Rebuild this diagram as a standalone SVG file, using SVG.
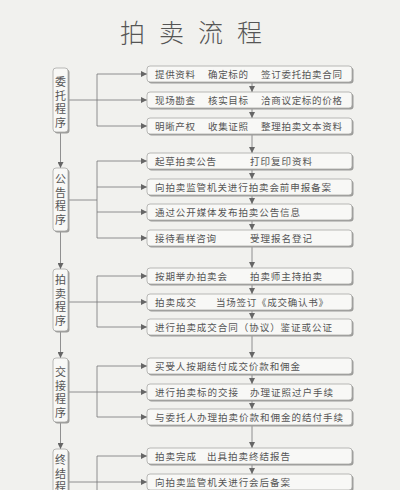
<svg xmlns="http://www.w3.org/2000/svg" width="400" height="490" viewBox="0 0 400 490">
<defs>
<marker id="ah" viewBox="0 0 10 10" refX="10" refY="5" markerWidth="6" markerHeight="6" markerUnits="userSpaceOnUse" orient="auto">
<path d="M0,0 L10,5 L0,10 z" fill="#666"/>
</marker>
<style>
.bg{fill:#f1f1ee}
.box{fill:#f8f8f6;stroke:#a8a8a6;stroke-width:0.8}
.sh{fill:#9c9c9a}
.t{font-family:"Noto Sans CJK SC","Noto Sans",sans-serif;font-size:9.5px;fill:#555}
.v{font-family:"Noto Sans CJK SC","Noto Sans",sans-serif;font-size:11px;fill:#555;writing-mode:vertical-rl;text-orientation:upright;letter-spacing:2.5px}
.title{font-family:"Noto Sans CJK SC","Noto Sans",sans-serif;font-size:25px;font-weight:300;fill:#555;letter-spacing:14px}
.ln{fill:none;stroke:#777;stroke-width:0.8}
.ar{fill:none;stroke:#777;stroke-width:0.8;marker-end:url(#ah)}
</style>
</defs>
<rect class="bg" x="0" y="0" width="400" height="490"/>
<text id="title" class="title" x="120" y="42">拍卖流程</text>

<g id="connectors">
<path class="ar" d="M60.5,132 V168"/>
<path class="ar" d="M60.5,231 V269"/>
<path class="ar" d="M60.5,331 V358"/>
<path class="ar" d="M60.5,422 V449"/>
<path class="ar" d="M252,82 V92"/>
<path class="ar" d="M252,108 V118"/>
<path class="ar" d="M252,134 V153"/>
<path class="ar" d="M252,169 V179"/>
<path class="ar" d="M252,195 V204"/>
<path class="ar" d="M252,220 V230"/>
<path class="ar" d="M252,246 V268"/>
<path class="ar" d="M252,284 V294"/>
<path class="ar" d="M252,310 V319"/>
<path class="ar" d="M252,335 V358"/>
<path class="ar" d="M252,374 V384"/>
<path class="ar" d="M252,400 V409"/>
<path class="ar" d="M252,425 V448"/>
<path class="ar" d="M252,464 V474"/>
<path class="ln" d="M68,100 H97 M97,74 V126"/>
<path class="ar" d="M97,74 H147"/>
<path class="ar" d="M97,100 H147"/>
<path class="ar" d="M97,126 H147"/>
<path class="ln" d="M68,200 H97 M97,161 V238"/>
<path class="ar" d="M97,161 H147"/>
<path class="ar" d="M97,187 H147"/>
<path class="ar" d="M97,212 H147"/>
<path class="ar" d="M97,238 H147"/>
<path class="ln" d="M68,302 H97 M97,276 V327"/>
<path class="ar" d="M97,276 H147"/>
<path class="ar" d="M97,302 H147"/>
<path class="ar" d="M97,327 H147"/>
<path class="ln" d="M68,392 H97 M97,366 V417"/>
<path class="ar" d="M97,366 H147"/>
<path class="ar" d="M97,392 H147"/>
<path class="ar" d="M97,417 H147"/>
<path class="ln" d="M68,482 H97 M97,456 V495"/>
<path class="ar" d="M97,456 H147"/>
<path class="ar" d="M97,482 H147"/>
</g>

<g id="stage-weituo">
<rect class="sh" x="54.5" y="69.5" width="15" height="64" rx="3"/>
<rect class="box" x="53" y="68" width="15" height="64" rx="3"/>
<text class="v" x="60.5" y="76.5">委托程序</text>
</g>
<g id="stage-gonggao">
<rect class="sh" x="54.5" y="169.5" width="15" height="63" rx="3"/>
<rect class="box" x="53" y="168" width="15" height="63" rx="3"/>
<text class="v" x="60.5" y="173.5">公告程序</text>
</g>
<g id="stage-paimai">
<rect class="sh" x="54.5" y="270.5" width="15" height="62" rx="3"/>
<rect class="box" x="53" y="269" width="15" height="62" rx="3"/>
<text class="v" x="60.5" y="274.5">拍卖程序</text>
</g>
<g id="stage-jiaojie">
<rect class="sh" x="54.5" y="359.5" width="15" height="64" rx="3"/>
<rect class="box" x="53" y="358" width="15" height="64" rx="3"/>
<text class="v" x="60.5" y="366.5">交接程序</text>
</g>
<g id="stage-zhongjie">
<rect class="sh" x="54.5" y="450.5" width="15" height="64" rx="3"/>
<rect class="box" x="53" y="449" width="15" height="64" rx="3"/>
<text class="v" x="60.5" y="454.5">终结程</text>
</g>

<g id="s1"><rect class="sh" x="148.5" y="67.5" width="205" height="16" rx="3"/><rect class="box" x="147" y="66" width="205" height="16" rx="3"/>
<text class="t" x="155" y="77.5" textLength="40" lengthAdjust="spacing">提供资料</text><text class="t" x="208" y="77.5" textLength="40" lengthAdjust="spacing">确定标的</text><text class="t" x="261" y="77.5" textLength="81" lengthAdjust="spacing">签订委托拍卖合同</text></g>
<g id="s2"><rect class="sh" x="148.5" y="93.5" width="205" height="16" rx="3"/><rect class="box" x="147" y="92" width="205" height="16" rx="3"/>
<text class="t" x="155" y="103.5" textLength="40" lengthAdjust="spacing">现场勘查</text><text class="t" x="208" y="103.5" textLength="40" lengthAdjust="spacing">核实目标</text><text class="t" x="261" y="103.5" textLength="81" lengthAdjust="spacing">洽商议定标的价格</text></g>
<g id="s3"><rect class="sh" x="148.5" y="119.5" width="205" height="16" rx="3"/><rect class="box" x="147" y="118" width="205" height="16" rx="3"/>
<text class="t" x="155" y="129.5" textLength="40" lengthAdjust="spacing">明晰产权</text><text class="t" x="208" y="129.5" textLength="40" lengthAdjust="spacing">收集证照</text><text class="t" x="261" y="129.5" textLength="81" lengthAdjust="spacing">整理拍卖文本资料</text></g>

<g id="s4"><rect class="sh" x="148.5" y="154.5" width="205" height="16" rx="3"/><rect class="box" x="147" y="153" width="205" height="16" rx="3"/>
<text class="t" x="155" y="164.5" textLength="61" lengthAdjust="spacing">起草拍卖公告</text><text class="t" x="250" y="164.5" textLength="62" lengthAdjust="spacing">打印复印资料</text></g>
<g id="s5"><rect class="sh" x="148.5" y="180.5" width="205" height="16" rx="3"/><rect class="box" x="147" y="179" width="205" height="16" rx="3"/>
<text class="t" x="155" y="190.5" textLength="176" lengthAdjust="spacing">向拍卖监管机关进行拍卖会前申报备案</text></g>
<g id="s6"><rect class="sh" x="148.5" y="205.5" width="205" height="16" rx="3"/><rect class="box" x="147" y="204" width="205" height="16" rx="3"/>
<text class="t" x="155" y="215.5" textLength="145" lengthAdjust="spacing">通过公开媒体发布拍卖公告信息</text></g>
<g id="s7"><rect class="sh" x="148.5" y="231.5" width="205" height="16" rx="3"/><rect class="box" x="147" y="230" width="205" height="16" rx="3"/>
<text class="t" x="155" y="241.5" textLength="61" lengthAdjust="spacing">接待看样咨询</text><text class="t" x="250" y="241.5" textLength="62" lengthAdjust="spacing">受理报名登记</text></g>

<g id="s8"><rect class="sh" x="148.5" y="269.5" width="205" height="16" rx="3"/><rect class="box" x="147" y="268" width="205" height="16" rx="3"/>
<text class="t" x="155" y="279.5" textLength="72" lengthAdjust="spacing">按期举办拍卖会</text><text class="t" x="250" y="279.5" textLength="72" lengthAdjust="spacing">拍卖师主持拍卖</text></g>
<g id="s9"><rect class="sh" x="148.5" y="295.5" width="205" height="16" rx="3"/><rect class="box" x="147" y="294" width="205" height="16" rx="3"/>
<text class="t" x="155" y="305.5" textLength="41" lengthAdjust="spacing">拍卖成交</text><text class="t" x="216" y="305.5" textLength="112" lengthAdjust="spacing">当场签订《成交确认书》</text></g>
<g id="s10"><rect class="sh" x="148.5" y="320.5" width="205" height="16" rx="3"/><rect class="box" x="147" y="319" width="205" height="16" rx="3"/>
<text class="t" x="155" y="330.5" textLength="177" lengthAdjust="spacing">进行拍卖成交合同（协议）鉴证或公证</text></g>

<g id="s11"><rect class="sh" x="148.5" y="359.5" width="205" height="16" rx="3"/><rect class="box" x="147" y="358" width="205" height="16" rx="3"/>
<text class="t" x="155" y="369.5" textLength="145" lengthAdjust="spacing">买受人按期结付成交价款和佣金</text></g>
<g id="s12"><rect class="sh" x="148.5" y="385.5" width="205" height="16" rx="3"/><rect class="box" x="147" y="384" width="205" height="16" rx="3"/>
<text class="t" x="155" y="395.5" textLength="83" lengthAdjust="spacing">进行拍卖标的交接</text><text class="t" x="250" y="395.5" textLength="83" lengthAdjust="spacing">办理证照过户手续</text></g>
<g id="s13"><rect class="sh" x="148.5" y="410.5" width="205" height="16" rx="3"/><rect class="box" x="147" y="409" width="205" height="16" rx="3"/>
<text class="t" x="155" y="420.5" textLength="188" lengthAdjust="spacing">与委托人办理拍卖价款和佣金的结付手续</text></g>

<g id="s14"><rect class="sh" x="148.5" y="449.5" width="205" height="16" rx="3"/><rect class="box" x="147" y="448" width="205" height="16" rx="3"/>
<text class="t" x="155" y="459.5" textLength="41" lengthAdjust="spacing">拍卖完成</text><text class="t" x="207" y="459.5" textLength="83" lengthAdjust="spacing">出具拍卖终结报告</text></g>
<g id="s15"><rect class="sh" x="148.5" y="475.5" width="205" height="16" rx="3"/><rect class="box" x="147" y="474" width="205" height="16" rx="3"/>
<text class="t" x="155" y="485.5" textLength="135" lengthAdjust="spacing">向拍卖监管机关进行会后备案</text></g>
</svg>
